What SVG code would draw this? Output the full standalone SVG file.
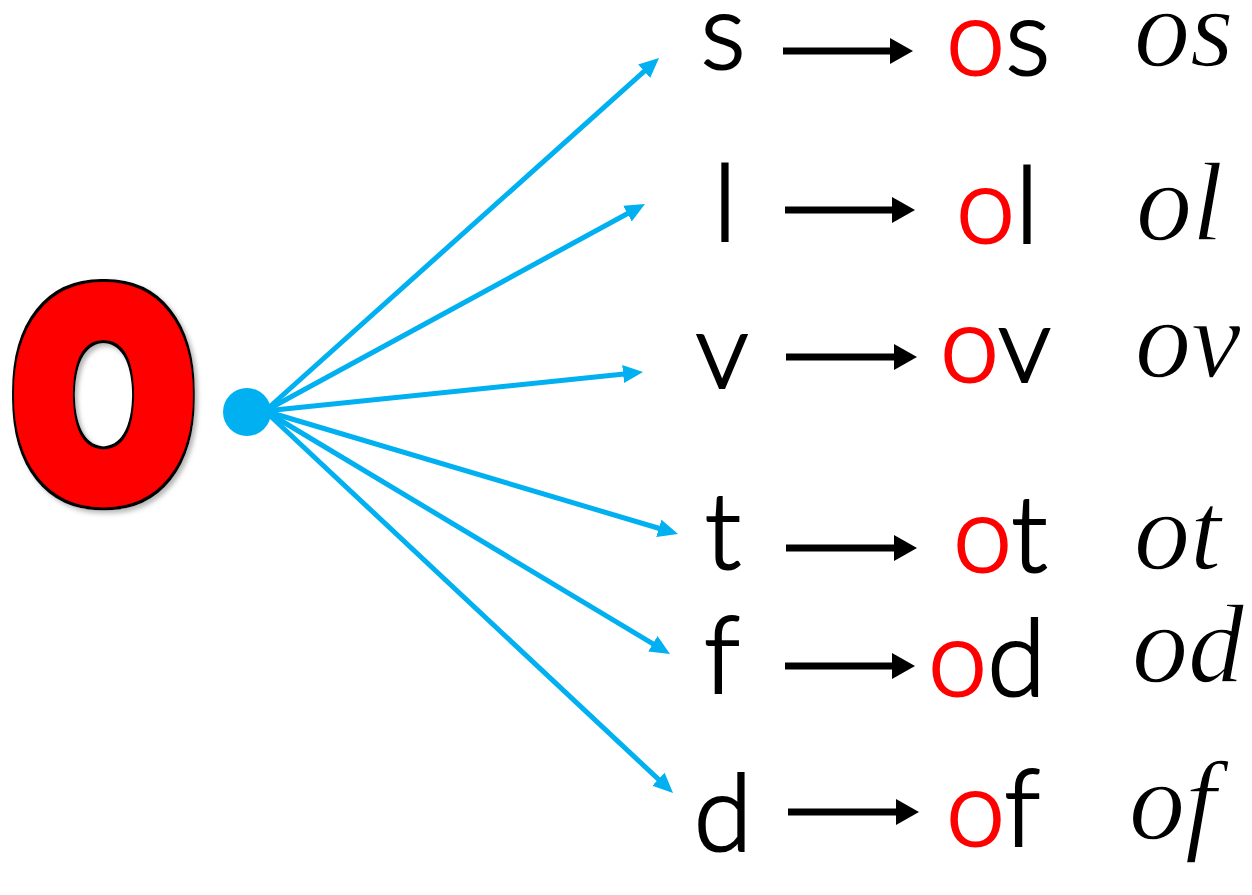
<svg xmlns="http://www.w3.org/2000/svg" width="1252" height="895" viewBox="0 0 1252 895">
<defs>
<style>
.print{font-family:"Lato","Liberation Sans",sans-serif;font-weight:300;font-size:106px;fill:#000;stroke:#000;stroke-width:2.2}
.red{fill:#FF0000;stroke:#FF0000}
.cur{font-family:"Liberation Serif",serif;font-style:italic;font-size:112px;fill:#000;stroke:#fff;stroke-width:1.4}
.blue{stroke:#00B0F0;stroke-width:5;fill:none}
.blk{stroke:#000;stroke-width:7;fill:none}
.bigO{font-family:"DejaVu Sans",sans-serif;font-weight:bold;font-size:270px;text-anchor:middle;stroke-linejoin:round}
</style>
<filter id="bigfx" x="-15%" y="-15%" width="135%" height="135%">
<feMorphology in="SourceAlpha" operator="dilate" radius="3" result="d"/>
<feGaussianBlur in="d" stdDeviation="2.5" result="b"/>
<feOffset in="b" dx="4" dy="3" result="o"/>
<feFlood flood-color="#888" flood-opacity="0.6"/>
<feComposite in2="o" operator="in" result="shadow"/>
<feFlood flood-color="#000"/>
<feComposite in2="d" operator="in" result="outline"/>
<feMerge><feMergeNode in="shadow"/><feMergeNode in="outline"/><feMergeNode in="SourceGraphic"/></feMerge>
</filter>
<marker id="bh" markerUnits="userSpaceOnUse" markerWidth="22" markerHeight="18" refX="6" refY="9" orient="auto" viewBox="0 0 22 18"><path d="M0,0 L20,9 L0,18 z" fill="#00B0F0"/></marker>
<marker id="kh" markerUnits="userSpaceOnUse" markerWidth="24" markerHeight="26" refX="2" refY="13" orient="auto" viewBox="0 0 24 26"><path d="M0,0 L23,13 L0,26 z" fill="#000"/></marker>
</defs>
<rect width="1252" height="895" fill="#fff"/>

<g id="big-o">
<text class="bigO" transform="translate(103.5,493) scale(0.8,1)" x="0" y="0" fill="#FF0000" stroke="#FF0000" stroke-width="21" filter="url(#bigfx)">O</text>
</g>

<g id="hub"><circle cx="247" cy="412" r="24" fill="#00B0F0"/></g>

<g id="connectors">
<line class="blue" x1="265" y1="411" x2="648.6" y2="67.3" marker-end="url(#bh)"/>
<line class="blue" x1="265" y1="411" x2="632.7" y2="210.7" marker-end="url(#bh)"/>
<line class="blue" x1="265" y1="411" x2="629.1" y2="373.4" marker-end="url(#bh)"/>
<line class="blue" x1="265" y1="411" x2="664.6" y2="530.0" marker-end="url(#bh)"/>
<line class="blue" x1="265" y1="411" x2="658.0" y2="646.8" marker-end="url(#bh)"/>
<line class="blue" x1="265" y1="411" x2="662.8" y2="783.4" marker-end="url(#bh)"/>
<line class="blk" x1="783" y1="51" x2="892" y2="51" marker-end="url(#kh)"/>
<line class="blk" x1="785" y1="210" x2="894" y2="210" marker-end="url(#kh)"/>
<line class="blk" x1="786" y1="357" x2="896" y2="357" marker-end="url(#kh)"/>
<line class="blk" x1="786" y1="548" x2="896" y2="548" marker-end="url(#kh)"/>
<line class="blk" x1="785" y1="666" x2="894" y2="666" marker-end="url(#kh)"/>
<line class="blk" x1="788" y1="812" x2="898" y2="812" marker-end="url(#kh)"/>
</g>

<g id="row-s">
<text class="print" x="723" y="69" text-anchor="middle">s</text>
<text class="print" x="946" y="75"><tspan class="red">o</tspan>s</text>
<text class="cur" x="1134" y="66">os</text>
</g>
<g id="row-l">
<text class="print" x="725" y="241" text-anchor="middle">l</text>
<text class="print" x="956" y="243"><tspan class="red">o</tspan>l</text>
<text class="cur" x="1136" y="240">ol</text>
</g>
<g id="row-v">
<text class="print" x="722" y="388" text-anchor="middle">v</text>
<text class="print" x="940" y="382"><tspan class="red">o</tspan>v</text>
<text class="cur" x="1135" y="377">ov</text>
</g>
<g id="row-t">
<text class="print" x="723" y="569" text-anchor="middle">t</text>
<text class="print" x="953" y="572"><tspan class="red">o</tspan>t</text>
<text class="cur" x="1134" y="569">ot</text>
</g>
<g id="row-f">
<text class="print" x="722" y="693" text-anchor="middle">f</text>
<text class="print" x="928" y="696"><tspan class="red">o</tspan>d</text>
<text class="cur" x="1132" y="682">od</text>
</g>
<g id="row-d">
<text class="print" x="723" y="851" text-anchor="middle">d</text>
<text class="print" x="946" y="846"><tspan class="red">o</tspan>f</text>
<text class="cur" x="1129" y="839">of</text>
</g>
</svg>
